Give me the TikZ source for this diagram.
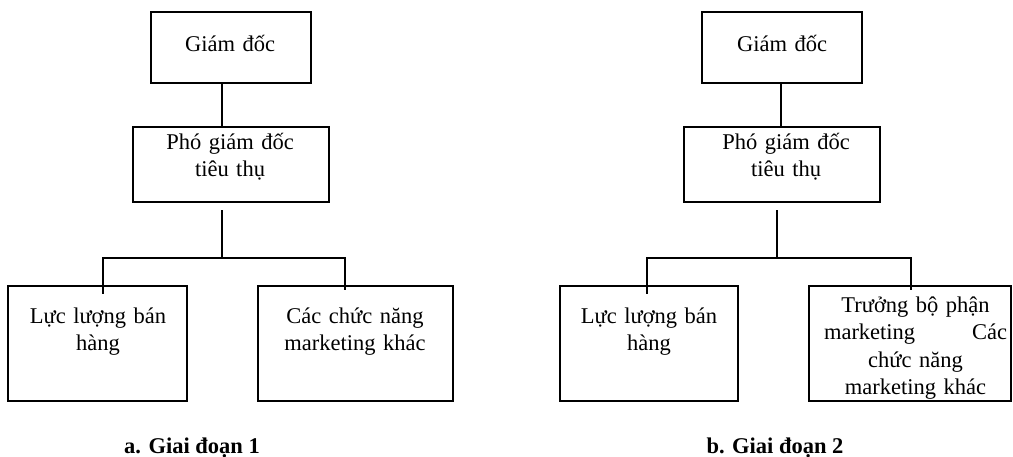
\documentclass[tikz,border=0pt]{standalone}
\usepackage{fontspec}
\setmainfont{Liberation Serif}
\usepackage{tikz}
\usetikzlibrary{calc}
\newcommand{\linecolor}{black}
\newcommand{\thickness}{2.2pt}
\newcommand{\txtsize}{\fontsize{22.5}{27.5}\selectfont}

\begin{document}
\begin{tikzpicture}[x=1pt,y=-1pt,
  box/.style={draw=\linecolor, line width=\thickness, rectangle, inner sep=0pt},
  txt/.style={font=\txtsize, text width=#1, align=center, anchor=base, inner sep=0pt},
  txt/.default=180pt,
  caption/.style={font=\txtsize\bfseries, anchor=base, inner sep=0pt},
  link/.style={draw=\linecolor, line width=1.2*\thickness}]
\useasboundingbox (0,0) rectangle (1013,456);
%a
\node[box, minimum width=160, minimum height=71] (gd1) at (231, 47.5) {};
\node[box, minimum width=196, minimum height=75] (pgd1) at (231, 164.5) {};
\node[box, minimum width=179, minimum height=115] (lc1) at (97.5, 343.5) {};
\node[box, minimum width=195, minimum height=115] (cn1) at (355.5, 343.5) {};
\node[txt] (gd1t) at (230, 51) {Giám đốc};
\node[txt] (pgd1t) at (230, 149) {Phó giám đốc\\tiêu thụ};
\node[txt] (lc1t) at (98, 323) {Lực lượng bán\\hàng};
\node[txt] (cn1t) at (355, 323) {Các chức năng\\marketing khác};
\coordinate (fork1) at (222, 258);
\draw[link] (gd1.south -| fork1) -- (pgd1.north -| fork1);
\draw[link] ($(pgd1.south -| fork1)+(0,7)$) -- (fork1);
\draw[link] ($(lc1.north)+(5.5,9)$) |- (fork1) -| ($(cn1.north)+(-10.5,5)$);
\node[caption] (capa) at (192, 453) {a. Giai đoạn 1};
%b
\node[box, minimum width=160, minimum height=71] (gd2) at (782, 47.5) {};
\node[box, minimum width=196, minimum height=75] (pgd2) at (782, 164.5) {};
\node[box, minimum width=178, minimum height=115] (lc2) at (649, 343.5) {};
\node[box, minimum width=202, minimum height=115] (tb2) at (910, 343.5) {};
\node[txt] (gd2t) at (782, 51) {Giám đốc};
\node[txt] (pgd2t) at (786, 149) {Phó giám đốc\\tiêu thụ};
\node[txt] (lc2t) at (649, 323) {Lực lượng bán\\hàng};
\node[txt=183pt] (tb2t) at (915.5, 312) {Trưởng bộ phận\\marketing\hskip0pt plus1filll Các\\chức năng\\marketing khác};
\coordinate (fork2) at (777, 258);
\draw[link] ($(gd2.south)+(-1,0)$) -- ($(pgd2.north)+(-1,0)$);
\draw[link] ($(pgd2.south -| fork2)+(0,7)$) -- (fork2);
\draw[link] ($(lc2.north)+(-2,9)$) |- (fork2) -| ($(tb2.north)+(1,5)$);
\node[caption] (capb) at (775, 453) {b. Giai đoạn 2};
\end{tikzpicture}
\end{document}
